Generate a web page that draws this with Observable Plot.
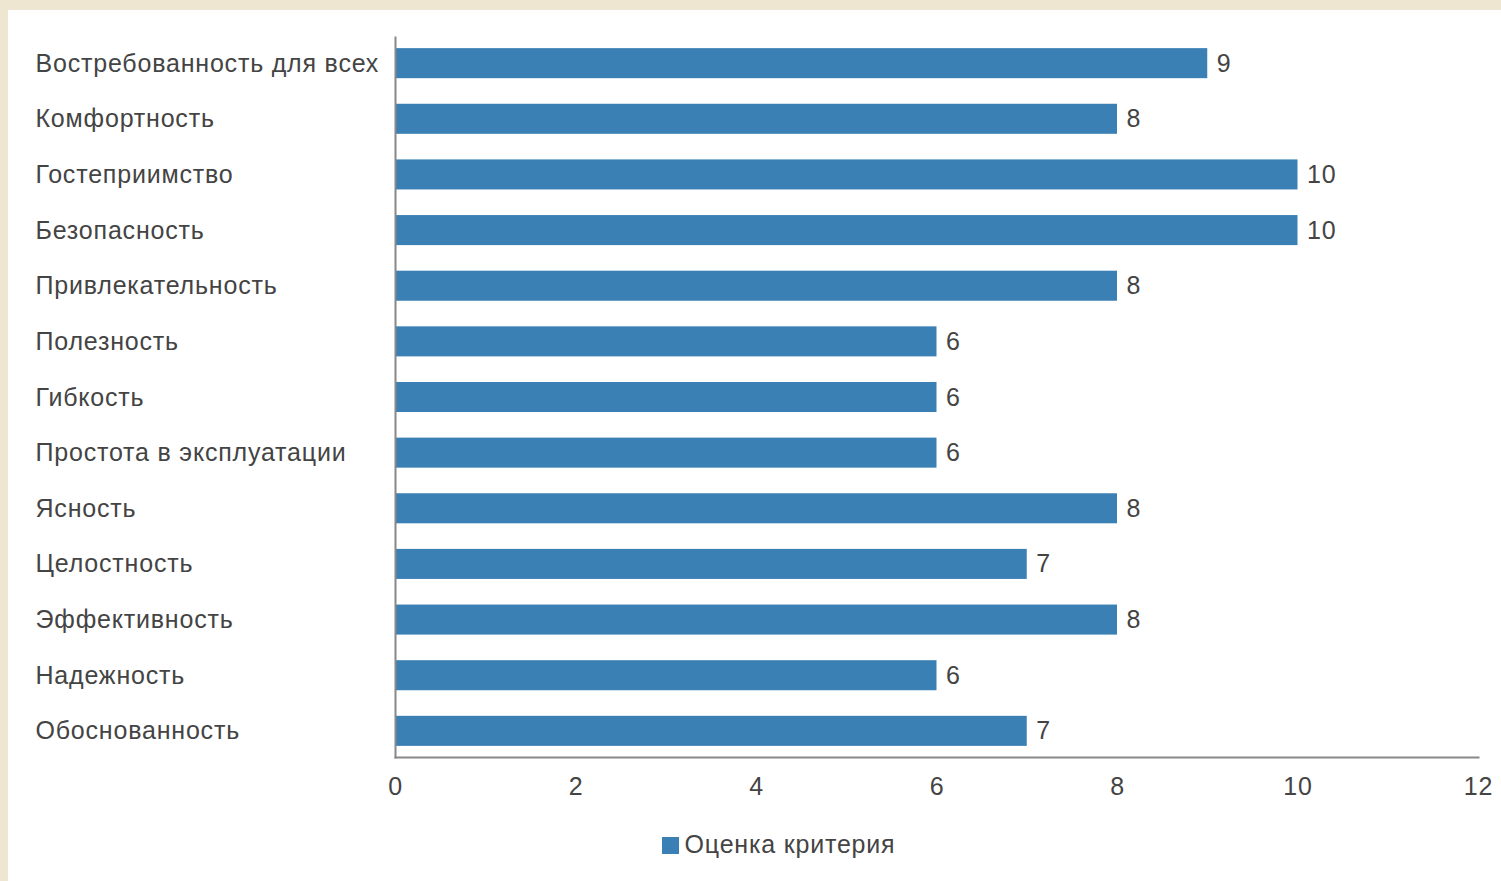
<!DOCTYPE html>
<html><head><meta charset="utf-8">
<script src="https://cdn.jsdelivr.net/npm/d3@7"></script>
<script src="https://cdn.jsdelivr.net/npm/@observablehq/plot@0.6"></script>
<style>
html,body{margin:0;padding:0;width:1501px;height:881px;overflow:hidden;background:#efe6d2;font-family:"Liberation Sans",Arial,sans-serif;}
#panel{position:absolute;left:8px;top:10px;width:1493px;height:871px;background:#fff;}
#legend{position:absolute;left:0;width:100%;top:820px;text-align:center;font-size:25px;letter-spacing:0.8px;color:#444;padding-left:48px;box-sizing:border-box;}
#legend .sw{display:inline-block;width:17px;height:17px;background:#3b80b5;vertical-align:-1px;margin-right:6px;}
svg text{letter-spacing:0.8px;}
</style></head><body>
<div id="panel"><div id="chart"></div><div id="legend"><span class="sw"></span>Оценка критерия</div></div>
<script>
const categories = ["Востребованность для всех","Комфортность","Гостеприимство","Безопасность","Привлекательность","Полезность","Гибкость","Простота в эксплуатации","Ясность","Целостность","Эффективность","Надежность","Обоснованность"];
const values = [9,8,10,10,8,6,6,6,8,7,8,6,7];
const xTicks = [0,2,4,6,8,10,12];
const seriesName = "Оценка критерия";
const data = categories.map((c,i)=>({category:c, value:values[i]}));
const chart = Plot.plot({
  width:1493, height:800,
  marginLeft:387, marginRight:23, marginTop:27, marginBottom:53,
  style:{fontFamily:'"Liberation Sans",Arial,sans-serif', fontSize:"25px", color:"#444", background:"transparent"},
  x:{domain:[0,12], ticks:xTicks},
  y:{domain:categories, paddingInner:0.46, paddingOuter:0.2, round:false, label:null},
  marks:[
    Plot.barX(data,{y:"category", x:"value", fill:"#3b80b5"}),
    Plot.text(data,{y:"category", x:"value", text:d=>String(d.value), textAnchor:"start", dx:9, fill:"#444", fontSize:25}),
    Plot.axisX({ticks:xTicks, tickSize:0, tickPadding:20, label:null, fontSize:25, fill:"#444"}),
    Plot.axisY({tickSize:0, tickPadding:0, textAnchor:"start", dx:-360, label:null, fontSize:25, fill:"#444"}),
    Plot.frame({anchor:"bottom", stroke:"#888", strokeWidth:2}),
    Plot.frame({anchor:"left", stroke:"#888", strokeWidth:2})
  ]
});
document.getElementById("chart").appendChild(chart);
</script>
</body></html>
